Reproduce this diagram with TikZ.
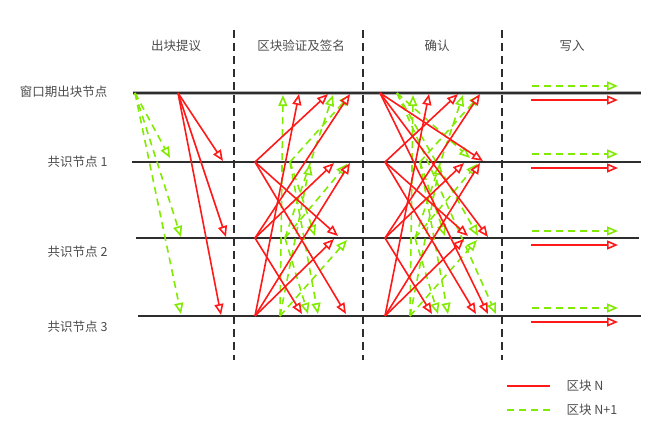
\documentclass[tikz,border=0pt]{standalone}
\usepackage{fontspec}
\setmainfont{Noto Sans CJK SC}
\usetikzlibrary{arrows.meta}
\definecolor{myred}{RGB}{255,25,25}
\definecolor{mygrn}{RGB}{128,235,0}
\definecolor{txtgray}{RGB}{75,75,75}
\definecolor{linegray}{RGB}{45,45,45}
\begin{document}
\begin{tikzpicture}[x=1pt,y=-1pt,
  tip/.style={-{Triangle[length=11pt,width=9pt,fill=white]}},
  redarr/.style={draw=myred,line width=1.6pt,tip},
  grnarr/.style={draw=mygrn,line width=1.6pt,dash pattern=on 7pt off 5pt,tip},
  rowline/.style={draw=linegray,line width=1.6pt},
  sepline/.style={draw=linegray,line width=1.6pt,dash pattern=on 8pt off 5pt},
  hdr/.style={text=txtgray,font=\fontsize{12.5}{14}\selectfont},
  lbl/.style={text=txtgray,font=\fontsize{12.5}{14}\selectfont,anchor=east}]
\useasboundingbox (0,0) rectangle (665,439);
% row lines
\draw[draw=gray!60,line width=3.4pt] (133,93) coordinate (r0a) -- (641,93) coordinate (r0b);
\draw[rowline,line width=1.8pt] (r0a) -- (r0b);
\draw[rowline] (132,162) coordinate (r1a) -- (641,162) coordinate (r1b);
\draw[rowline] (136,238) coordinate (r2a) -- (639,238) coordinate (r2b);
\draw[rowline] (138,316) coordinate (r3a) -- (641,316) coordinate (r3b);
% separators
\foreach \x/\n in {234/s1,363/s2,502/s3}{
  \draw[sepline] (\x,30) coordinate (\n a) -- (\x,360) coordinate (\n b);
}
% headers
\node[hdr] (h1) at (176,46) {出块提议};
\node[hdr] (h2) at (301,46) {区块验证及签名};
\node[hdr] (h3) at (437,46) {确认};
\node[hdr] (h4) at (572,46) {写入};
% row labels
\node[lbl] (l0) at (111,92) {窗口期出块节点};
\node[lbl] (l1) at (111,162) {共识节点 1};
\node[lbl] (l2) at (111,252) {共识节点 2};
\node[lbl] (l3) at (111,327) {共识节点 3};
% origins
\coordinate (P0) at (178,93);
\coordinate (Q0) at (135,93);
\coordinate (A1) at (255,162);
\coordinate (A2) at (255,238);
\coordinate (A3) at (255,316);
\coordinate (G1) at (290,162);
\coordinate (G2) at (285,238);
\coordinate (G3) at (280,316);
\coordinate (B0) at (380,93);
\coordinate (B1) at (385,162);
\coordinate (B2) at (385,238);
\coordinate (B3) at (385,316);
\coordinate (H0) at (397,93);
\coordinate (H1) at (420,162);
\coordinate (H2) at (415,238);
\coordinate (H3) at (410,316);
% section 1
\foreach \ex/\ey in {170/158,181/237,181/314}{\draw[grnarr] (Q0) -- (\ex,\ey);}
\foreach \ex/\ey in {223/161,226/237,221/315}{\draw[redarr] (P0) -- (\ex,\ey);}
% section 2
\foreach \s/\ex/\ey in {G1/350/95,G1/315/236,G1/318/314,
                        G2/333/95,G2/347/164,G2/308/314,
                        G3/283/95,G3/310/164,G3/347/240}{\draw[grnarr] (\s) -- (\ex,\ey);}
\foreach \s/\ex/\ey in {A1/328/94,A1/338/236,A1/346/314,
                        A2/350/94,A2/334/163,A2/302/314,
                        A3/299/94,A3/350/163,A3/334/239}{\draw[redarr] (\s) -- (\ex,\ey);}
% section 3
\foreach \s/\ex/\ey in {H0/470/158,H0/478/236,H0/496/314,
                        H1/480/95,H1/445/236,H1/448/314,
                        H2/463/95,H2/477/164,H2/438/314,
                        H3/413/95,H3/440/164,H3/477/240}{\draw[grnarr] (\s) -- (\ex,\ey);}
\foreach \s/\ex/\ey in {B0/483/161,B0/488/237,B0/488/314,
                        B1/458/94,B1/468/236,B1/476/314,
                        B2/480/94,B2/464/163,B2/432/314,
                        B3/429/94,B3/480/163,B3/464/239}{\draw[redarr] (\s) -- (\ex,\ey);}
% section 4
\foreach \gy/\ry/\n in {86/100/w0,154/168/w1,231/245/w2,308/322/w3}{
  \coordinate (\n g) at (532,\gy);
  \coordinate (\n r) at (531,\ry);
  \draw[grnarr] (\n g) -- (618,\gy);
  \draw[redarr] (\n r) -- (618,\ry);
}
% legend
\coordinate (La) at (507,386); \coordinate (Lb) at (550,386);
\coordinate (Lc) at (507,410); \coordinate (Ld) at (550,410);
\draw[draw=myred,line width=1.6pt] (La) -- (Lb);
\draw[draw=mygrn,line width=1.6pt,dash pattern=on 7pt off 5pt] (Lc) -- (Ld);
\node[hdr,anchor=west] (t1) at (563,386) {区块 N};
\node[hdr,anchor=west] (t2) at (563,410) {区块 N+1};
\end{tikzpicture}
\end{document}
